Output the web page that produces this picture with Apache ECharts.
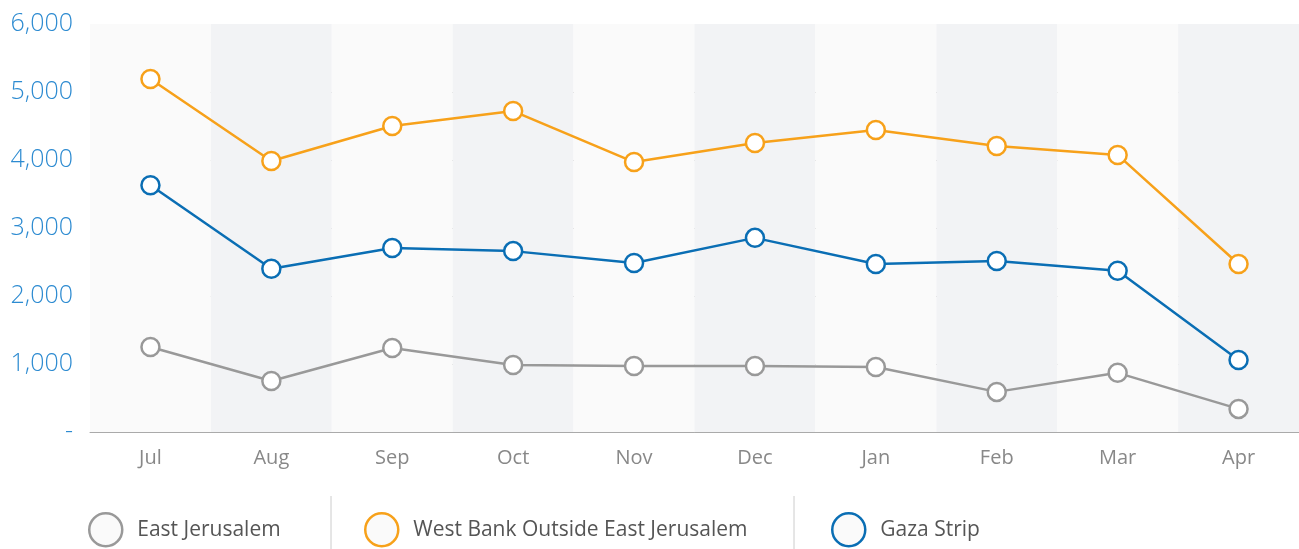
<!DOCTYPE html>
<html>
<head>
<meta charset="utf-8">
<script src="https://cdn.jsdelivr.net/npm/echarts@6/dist/echarts.min.js"></script>
<style>
  html, body { margin: 0; padding: 0; background: #fff; }
  #main { width: 1299px; height: 549px; }
</style>
</head>
<body>
<div id="main"></div>
<script>
// months on the x axis
var months = ['Jul', 'Aug', 'Sep', 'Oct', 'Nov', 'Dec', 'Jan', 'Feb', 'Mar', 'Apr'];

// series values
var eastJerusalem = [1250, 750, 1235, 985, 970, 970, 955, 590, 870, 340];
var westBank = [5190, 3985, 4500, 4720, 3970, 4250, 4440, 4205, 4075, 2470];
var gaza = [3630, 2400, 2705, 2660, 2485, 2855, 2470, 2515, 2370, 1060];

var seriesNames = ['East Jerusalem', 'West Bank Outside East Jerusalem', 'Gaza Strip'];
var seriesColors = ['#999999', '#f7a11a', '#0a6eb4'];
var legendLeft = [88, 364, 831];

var font = '"Open Sans", "Noto Sans", sans-serif';

function makeSeries(name, data, color) {
	return {
		name: name,
		type: 'line',
		data: data,
		symbol: 'circle',
		symbolSize: 18,
		itemStyle: { color: '#ffffff', borderColor: color, borderWidth: 2.5 },
		lineStyle: { color: color, width: 2.5 },
		emphasis: { disabled: true },
		z: 3
	};
}

var myChart = echarts.init(document.getElementById('main'));

var legends = [];
for (var i = 0; i < seriesNames.length; i++) {
	legends.push({
		data: [{
			name: seriesNames[i],
			icon: 'circle',
			itemStyle: { color: '#fafafa', borderColor: seriesColors[i], borderWidth: 2.5 }
		}],
		left: legendLeft[i],
		top: 512,
		padding: 0,
		itemWidth: 33,
		itemHeight: 33,
		selectedMode: false,
		textStyle: { fontFamily: font, fontSize: 21, color: '#555', padding: [0, 0, 0, 10] }
	});
}

myChart.setOption({
	animation: false,
	grid: { left: 90, top: 24, width: 1210, height: 408, containLabel: false },
	legend: legends,
	xAxis: {
		type: 'category',
		data: months,
		boundaryGap: true,
		axisLine: { show: true, lineStyle: { color: '#aaaaaa', width: 1 } },
		axisTick: { show: false },
		axisLabel: { fontFamily: font, fontSize: 20, color: '#888', margin: 16 },
		splitLine: { show: false },
		splitArea: { show: true, areaStyle: { color: ['#fafafa', '#f2f3f5'] } }
	},
	yAxis: {
		type: 'value',
		min: 0,
		max: 6000,
		interval: 1000,
		axisLine: { show: false },
		axisTick: { show: false },
		axisLabel: {
			fontFamily: font,
			fontSize: 25,
			fontWeight: 300,
			color: '#2d8bd1',
			margin: 17,
			formatter: function (v) {
				if (v === 0) return '-';
				return v.toString().replace(/\B(?=(\d{3})+(?!\d))/g, ',');
			}
		},
		splitLine: {
			show: true,
			lineStyle: { color: ['#aaaaaa', '#aaaaaa', '#aaaaaa', '#aaaaaa', '#aaaaaa', '#aaaaaa', 'rgba(0,0,0,0)'], width: 1 }
		}
	},
	graphic: [
		{ type: 'line', shape: { x1: 331, y1: 496, x2: 331, y2: 549 }, style: { stroke: '#cccccc', lineWidth: 1 } },
		{ type: 'line', shape: { x1: 794, y1: 496, x2: 794, y2: 549 }, style: { stroke: '#cccccc', lineWidth: 1 } }
	],
	series: [
		makeSeries(seriesNames[0], eastJerusalem, seriesColors[0]),
		makeSeries(seriesNames[1], westBank, seriesColors[1]),
		makeSeries(seriesNames[2], gaza, seriesColors[2])
	]
});
</script>
</body>
</html>
